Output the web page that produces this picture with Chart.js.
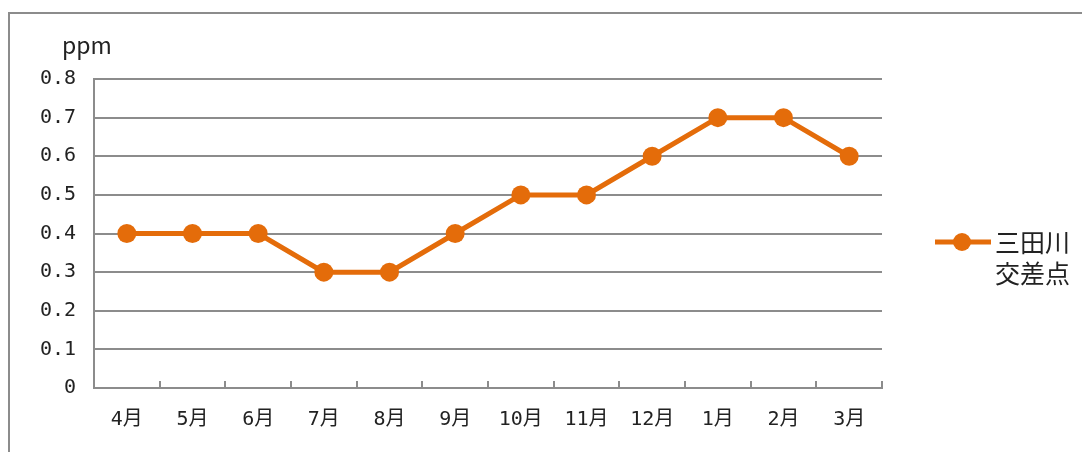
<!DOCTYPE html>
<html>
<head>
<meta charset="utf-8">
<script src="https://cdn.jsdelivr.net/npm/chart.js@4/dist/chart.umd.min.js"></script>
<style>
  html,body{margin:0;padding:0;background:#fff}
  #wrap{width:1083px;height:452px;position:relative}
</style>
</head>
<body>
<div id="wrap"><canvas id="c"></canvas></div>
<script>
// ─── DATA ─────────────────────────────────────────────────────────────────────
const months = ['4月','5月','6月','7月','8月','9月','10月','11月','12月','1月','2月','3月'];
const values = [0.4,0.4,0.4,0.3,0.3,0.4,0.5,0.5,0.6,0.7,0.7,0.6];
const seriesName = ['三田川','交差点'];
const yTicks = [0,0.1,0.2,0.3,0.4,0.5,0.6,0.7,0.8];
const unitLabel = 'ppm';

const ORANGE = '#E46C0A', GRID = '#8c8c8c';
const CJK = '"Noto Sans CJK JP", "Noto Sans", sans-serif';
const MONO = '"DejaVu Sans Mono", "Noto Sans CJK JP", monospace';

// frame, unit label, inner ticks, legend
const extras = {
  id:'extras',
  afterDraw(chart){
    const {ctx, chartArea:a, scales:{x}} = chart;
    ctx.save();
    // outer frame (top + left only visible)
    ctx.strokeStyle = '#8c8c8c'; ctx.lineWidth = 2;
    ctx.beginPath(); ctx.moveTo(9, 460); ctx.lineTo(9, 13); ctx.lineTo(1082, 13); ctx.stroke();
    // unit
    ctx.fillStyle = '#222'; ctx.font = '23px ' + CJK; ctx.textBaseline = 'middle'; ctx.textAlign = 'left';
    ctx.fillText(unitLabel, 62, 45);
    // category boundary ticks pointing up
    ctx.strokeStyle = GRID; ctx.lineWidth = 2;
    const half = (x.getPixelForTick(1) - x.getPixelForTick(0)) / 2;
    for (let i = 0; i < months.length; i++) {
      const px = Math.round(x.getPixelForTick(i) + half);
      ctx.beginPath(); ctx.moveTo(px, a.bottom); ctx.lineTo(px, a.bottom - 7); ctx.stroke();
    }
    // legend
    const ly = 242;
    ctx.strokeStyle = ORANGE; ctx.lineWidth = 5;
    ctx.beginPath(); ctx.moveTo(935, ly); ctx.lineTo(991, ly); ctx.stroke();
    ctx.fillStyle = ORANGE; ctx.beginPath(); ctx.arc(962, ly, 9, 0, Math.PI*2); ctx.fill();
    ctx.fillStyle = '#222'; ctx.font = '25px ' + CJK; ctx.textAlign = 'left';
    ctx.fillText(seriesName[0], 995, ly);
    ctx.fillText(seriesName[1], 995, ly + 31);
    ctx.restore();
  }
};

new Chart(document.getElementById('c'), {
  type:'line',
  data:{labels:months, datasets:[{
    label:seriesName.join(''), data:values,
    borderColor:ORANGE, backgroundColor:ORANGE, borderWidth:5,
    pointRadius:9.5, pointHoverRadius:9.5, pointBackgroundColor:ORANGE, pointBorderWidth:0,
    tension:0
  }]},
  options:{
    responsive:true, maintainAspectRatio:false, animation:false,
    layout:{padding:{left:0, top:79, right:201, bottom:0}},
    plugins:{legend:{display:false}, tooltip:{enabled:false}},
    scales:{
      x:{
        offset:true,
        grid:{display:false, drawTicks:false},
        border:{display:true, color:GRID, width:2},
        ticks:{padding:20, color:'#222', font:{size:20, family:MONO}, maxRotation:0, autoSkip:false},
        afterFit:s=>{ s.height = 64; }
      },
      y:{
        min:0, max:0.8,
        afterBuildTicks:s=>{ s.ticks = yTicks.map(v=>({value:v})); },
        grid:{color:GRID, lineWidth:2, drawTicks:false},
        border:{display:true, color:GRID, width:2},
        ticks:{padding:18, color:'#222', font:{size:20, family:MONO}, callback:v=>String(v)},
        afterFit:s=>{ s.width = 94; }
      }
    }
  },
  plugins:[extras]
});
</script>
</body>
</html>
